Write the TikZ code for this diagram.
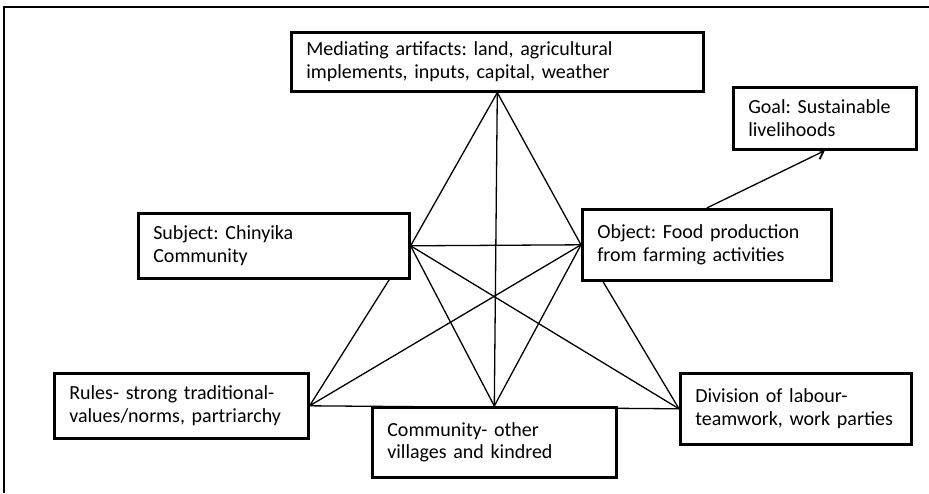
\documentclass[tikz,border=0pt]{standalone}
\usepackage{fontspec}
\setmainfont{Carlito}
\usetikzlibrary{arrows.meta,backgrounds}
\frenchspacing
\begin{document}
\begin{tikzpicture}[x=1pt,y=-1pt,
  box/.style={draw, line width=2.6pt, fill=white, rectangle, anchor=north west,
    inner xsep=15pt, inner ysep=0pt, align=left,
    font=\fontsize{20}{22.5}\selectfont},
  link/.style={line width=1.3pt},
  frame/.style={line width=1.6pt}]
\useasboundingbox (0,0) rectangle (929,493);

% open frame: top and left edges only
\draw[frame] (4,493) -- (4,7) -- (929,7);

% activity system elements
\node[box, minimum width=412pt, minimum height=59pt, text width=382pt] (med) at (290,31)
  {Mediating artifacts: land, agricultural\\implements, inputs, capital, weather};
\node[box, minimum width=183pt, minimum height=62pt, text width=153pt] (goal) at (732,86)
  {Goal: Sustainable\\livelihoods};
\node[box, minimum width=271pt, minimum height=65pt, text width=241pt] (subj) at (137,212)
  {Subject: Chinyika\\Community};
\node[box, minimum width=249pt, minimum height=71pt, text width=219pt] (obj) at (581,208)
  {Object: Food production\\from farming activities};
\node[box, minimum width=254pt, minimum height=65pt, text width=224pt] (rules) at (53,372)
  {Rules- strong traditional-\\values/norms, partriarchy};
\node[box, minimum width=244pt, minimum height=70pt, text width=214pt] (comm) at (371,406)
  {Community- other\\villages and kindred};
\node[box, minimum width=231pt, minimum height=71pt, text width=201pt] (div) at (679,372)
  {Division of labour-\\teamwork, work parties};

% connectors between the elements, kept behind the boxes
\begin{scope}[on background layer]
  \draw[link] (med.south) -- (subj.east) -- (rules.east);
  \draw[link] (med.south) -- (obj.west) -- (div.west);
  \draw[link] (med.south) -- (comm.north);
  \draw[link] (subj.east) -- (obj.west);
  \draw[link] (rules.east) -- (div.west);
  \draw[link] (subj.east) -- (comm.north);
  \draw[link] (subj.east) -- (div.west);
  \draw[link] (obj.west) -- (comm.north);
  \draw[link] (obj.west) -- (rules.east);
\end{scope}

% outcome arrow
\draw[link, -{Straight Barb[length=7pt,width=11pt,line width=1.8pt]}] (obj.north) -- (goal.south);
\end{tikzpicture}
\end{document}
